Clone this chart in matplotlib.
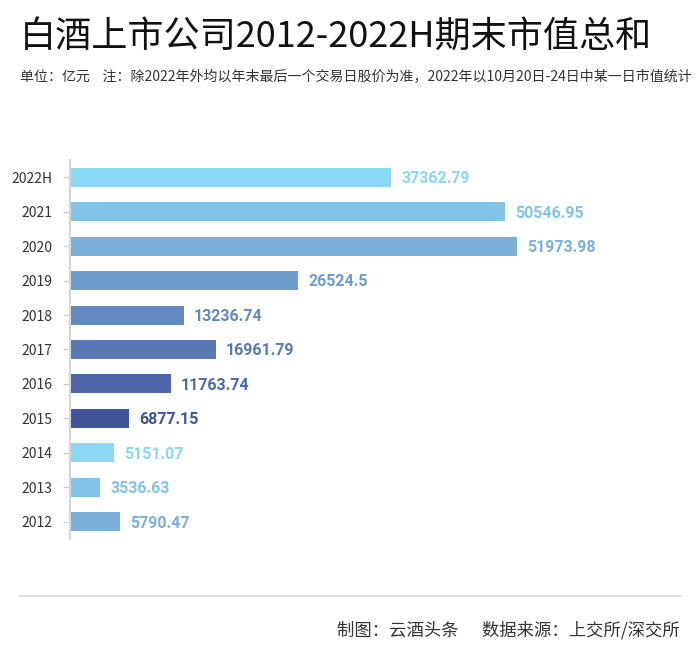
import matplotlib
matplotlib.use("Agg")
import matplotlib.pyplot as plt
from matplotlib.lines import Line2D

plt.rcParams['font.family'] = ['Noto Sans CJK SC', 'DejaVu Sans']

categories = ["2022H", "2021", "2020", "2019", "2018", "2017", "2016", "2015", "2014", "2013", "2012"]
values = [37362.79, 50546.95, 51973.98, 26524.5, 13236.74, 16961.79, 11763.74, 6877.15, 5151.07, 3536.63, 5790.47]
labels = ["37362.79", "50546.95", "51973.98", "26524.5", "13236.74", "16961.79", "11763.74", "6877.15", "5151.07", "3536.63", "5790.47"]
colors = ["#8AD8F4", "#82C4E8", "#7AB0D9", "#6E9CCD", "#6488C0", "#5A78B5", "#4D66A8", "#3F5499",
          "#8AD8F4", "#82C4E8", "#7AB0D9"]

W, H = 700, 660
fig = plt.figure(figsize=(W / 100, H / 100), dpi=100)

ax_left, ax_right = 70, 690
ax_top, ax_bottom = 160, 539
ax = fig.add_axes([ax_left / W, 1 - ax_bottom / H, (ax_right - ax_left) / W, (ax_bottom - ax_top) / H])

px_per_unit = 447 / 51973.98
xmax = (ax_right - ax_left) / px_per_unit

ypos = list(range(len(categories)))
ax.barh(ypos, values, height=0.55, color=colors, zorder=2)
ax.set_xlim(0, xmax)
ax.set_ylim(len(categories) - 0.5, -0.5)
ax.set_yticks(ypos)
ax.set_yticklabels(categories, fontsize=10, color="#333333")
ax.tick_params(axis='y', length=5, width=1, color="#cccccc", pad=8)
ax.set_xticks([])
for s in ["top", "right", "bottom"]:
    ax.spines[s].set_visible(False)
ax.spines["left"].set_color("#d6d6d6")
ax.spines["left"].set_linewidth(1.5)

offset = 10 / px_per_unit
for y, v, lab, c in zip(ypos, values, labels, colors):
    ax.text(v + offset, y + 0.04, lab, va='center', ha='left', fontsize=11.5, fontweight='bold',
            color=c, family=['Roboto', 'DejaVu Sans'])

fig.text(20 / W, 1 - 38 / H, "白酒上市公司2012-2022H期末市值总和", fontsize=26, color="#111111",
         va='center', ha='left')
fig.text(20 / W, 1 - 76 / H, "单位：亿元    注：除2022年外均以年末最后一个交易日股价为准，2022年以10月20日-24日中某一日市值统计",
         fontsize=10.05, color="#333333", va='center', ha='left')

fig.add_artist(Line2D([20 / W, 680 / W], [1 - 596 / H, 1 - 596 / H], color="#dddddd", linewidth=1.5,
                      transform=fig.transFigure))
fig.text(680 / W, 1 - 630 / H, "制图：云酒头条      数据来源：上交所/深交所", fontsize=12.5, color="#333333",
         va='center', ha='right')

fig.savefig("out.png", dpi=100, facecolor="white")
